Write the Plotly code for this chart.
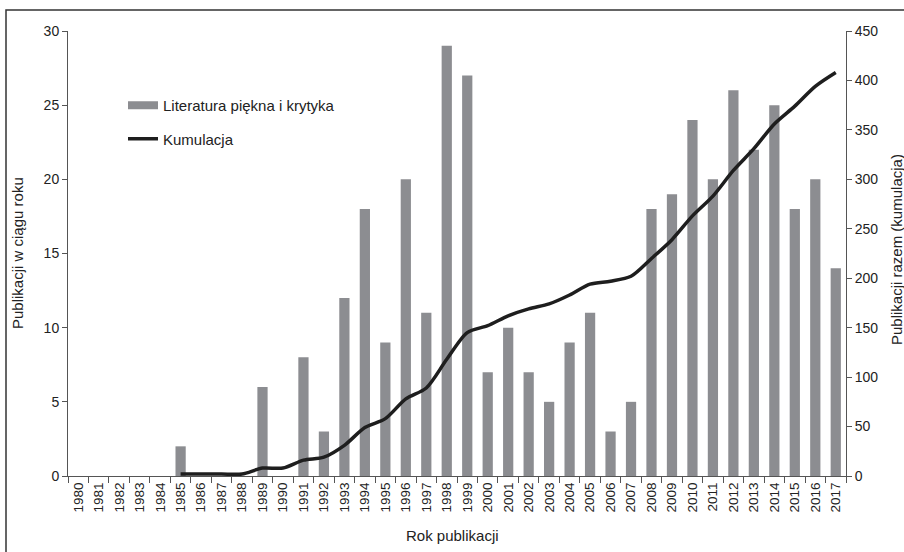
import plotly.graph_objects as go

years = [str(y) for y in range(1980, 2018)]
counts = [0, 0, 0, 0, 0, 2, 0, 0, 0, 6, 0, 8, 3, 12, 18, 9, 20, 11, 29, 27,
          7, 10, 7, 5, 9, 11, 3, 5, 18, 19, 24, 20, 26, 22, 25, 18, 20, 14]
cumulative = [None, None, None, None, None, 2, 2, 2, 2, 8, 8, 16, 19, 31, 49, 58, 78, 89, 118, 145,
              152, 162, 169, 174, 183, 194, 197, 202, 220, 239, 263, 283, 309, 331, 356, 374, 394, 408]

FONT = "Liberation Sans, Arial, sans-serif"
TXT = "#222222"
AX = "#555555"
BAR = "#8c8d91"
LINE = "#1e1e1e"

PL, PR, PT, PB = 68, 846, 31, 476  # plot area in page pixels
PW, PH = PR - PL, PB - PT
W, H = 904, 552

fig = go.Figure()
fig.add_trace(go.Bar(x=years, y=counts, name="Literatura piękna i krytyka", showlegend=False,
                     marker=dict(color=BAR, line=dict(width=0)), width=0.5))
fig.add_trace(go.Scatter(x=years, y=cumulative, name="Kumulacja", yaxis="y2", showlegend=False,
                         mode="lines", line=dict(color=LINE, width=3.5, shape="spline", smoothing=0.8)))
# legend keys
fig.add_trace(go.Scatter(x=[None], y=[None], name="Literatura piękna i krytyka", mode="lines",
                         line=dict(color=BAR, width=8), legendgroup="a"))
fig.add_trace(go.Scatter(x=[None], y=[None], name="Kumulacja", mode="lines", yaxis="y2",
                         line=dict(color=LINE, width=3.5), legendgroup="b"))

fig.update_layout(
    width=W, height=H,
    margin=dict(l=PL, r=W - PR, t=PT, b=H - PB),
    paper_bgcolor="white", plot_bgcolor="white",
    font=dict(family=FONT, size=15, color=TXT),
    showlegend=True,
    legend=dict(x=(123 - PL) / PW, y=1 - (89 - PT) / PH, xanchor="left", yanchor="top",
                bgcolor="rgba(0,0,0,0)", font=dict(size=15, color=TXT),
                traceorder="grouped", tracegroupgap=11, itemwidth=30),
    xaxis=dict(type="category", tickangle=-90, showline=True, linecolor=AX, linewidth=1,
               ticks="outside", tickson="boundaries", ticklen=6, tickcolor=AX,
               tickfont=dict(size=13.5), showgrid=False, zeroline=False, automargin=False),
    yaxis=dict(range=[0, 30], dtick=5, showline=True, linecolor=AX, linewidth=1,
               ticks="outside", ticklen=5, tickcolor=AX, showgrid=False, zeroline=False,
               tickfont=dict(size=14), automargin=False),
    yaxis2=dict(range=[0, 450], dtick=50, overlaying="y", side="right", showline=True,
                linecolor=AX, linewidth=1, ticks="outside", ticklen=5, tickcolor=AX,
                showgrid=False, zeroline=False, tickfont=dict(size=14), automargin=False),
    annotations=[
        dict(text="Rok publikacji", xref="paper", yref="paper", x=(452 - PL) / PW,
             y=-(535 - PB) / PH, xanchor="center", yanchor="middle", showarrow=False,
             font=dict(size=15)),
        dict(text="Publikacji w ciągu roku", xref="paper", yref="paper", x=-(PL - 18) / PW,
             y=(PB - 253) / PH, xanchor="center", yanchor="middle", showarrow=False,
             textangle=-90, font=dict(size=15)),
        dict(text="Publikacji razem (kumulacja)", xref="paper", yref="paper",
             x=1 + (896 - PR) / PW, y=(PB - 250) / PH, xanchor="center", yanchor="middle",
             showarrow=False, textangle=-90, font=dict(size=15)),
    ],
    shapes=[dict(type="rect", xref="paper", yref="paper",
                 x0=-(PL - 6) / PW, x1=1 + 80 / PW,
                 y0=-100 / PH, y1=1 + (PT - 10) / PH,
                 line=dict(color="#333333", width=1.5), fillcolor="rgba(0,0,0,0)", layer="below")],
)

fig.write_html("out.html", config={"displayModeBar": False},
               post_script="document.body.style.margin='0px';"
                           "document.documentElement.style.overflow='hidden';")
